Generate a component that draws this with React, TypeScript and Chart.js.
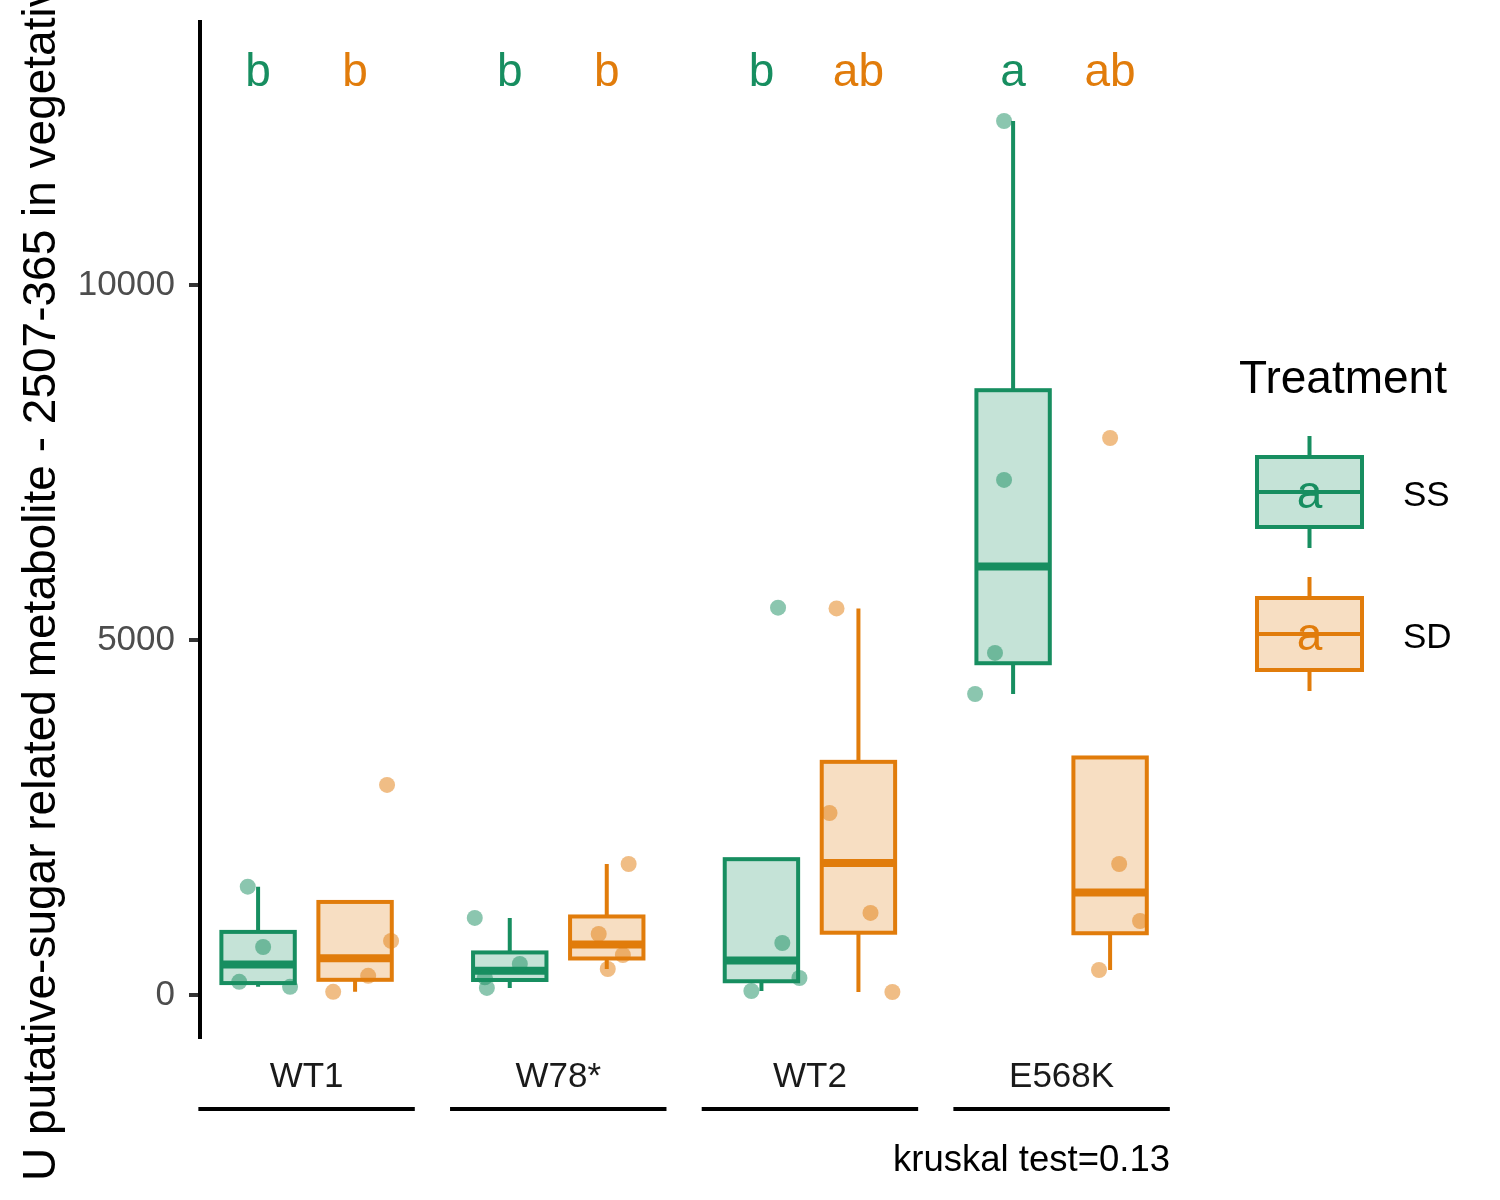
import React, { useEffect, useRef } from 'react';
import { Chart, registerables } from 'chart.js';

Chart.register(...registerables);

// categories
const genotypes = ['WT1', 'W78*', 'WT2', 'E568K'];
const treatments = ['SS', 'SD'];

const ssValues = [
  [1525, 676, 185, 115],
  [1085, 437, 248, 99],
  [5455, 732, 239, 56],
  [12310, 7254, 4817, 4239],
];
const sdValues = [
  [2958, 761, 270, 44],
  [1845, 859, 563, 366],
  [5445, 2563, 1155, 42],
  [7845, 1845, 1042, 352],
];

// horizontal jitter of each point, in category units
const ssJitter = [
  [-0.041, 0.02, -0.075, 0.127],
  [-0.139, 0.04, -0.099, -0.091],
  [0.066, 0.083, 0.151, -0.04],
  [-0.036, -0.036, -0.072, -0.151],
];
const sdJitter = [
  [0.127, 0.143, 0.052, -0.087],
  [0.087, -0.032, 0.064, 0.004],
  [-0.087, -0.115, 0.048, 0.135],
  [0, 0.036, 0.119, -0.044],
];

// compact letter display
const ssLetters = ['b', 'b', 'b', 'a'];
const sdLetters = ['b', 'b', 'ab', 'ab'];

const yTicks = [0, 5000, 10000];
const yTitle = 'U putative-sugar related metabolite - 2507-365 in vegetative tissue';
const testLabel = 'kruskal test=0.13';

const SS_COLOR = '#178E60';
const SD_COLOR = '#E17C0B';
const SS_FILL = 'rgba(23,142,96,0.25)';
const SD_FILL = 'rgba(225,124,11,0.25)';
const SS_POINT = 'rgba(23,142,96,0.5)';
const SD_POINT = 'rgba(225,124,11,0.5)';
const FONT = "'Liberation Sans', Arial, sans-serif";

const DODGE = 0.1927;
const BOX_HALF = 0.1458;
const LETTER_Y = 12800;

const quantile = (sorted: number[], p: number) => {
  const h = (sorted.length - 1) * p;
  const lo = Math.floor(h);
  const hi = Math.ceil(h);
  return sorted[lo] + (h - lo) * (sorted[hi] - sorted[lo]);
};

const boxStats = (values: number[]) => {
  const s = [...values].sort((a, b) => a - b);
  const q1 = quantile(s, 0.25);
  const med = quantile(s, 0.5);
  const q3 = quantile(s, 0.75);
  const iqr = q3 - q1;
  const lo = Math.min(...s.filter((v) => v >= q1 - 1.5 * iqr));
  const hi = Math.max(...s.filter((v) => v <= q3 + 1.5 * iqr));
  return { q1, med, q3, lo, hi };
};

const series = [
  { values: ssValues, jitter: ssJitter, letters: ssLetters, offset: -DODGE, stroke: SS_COLOR, fill: SS_FILL, point: SS_POINT },
  { values: sdValues, jitter: sdJitter, letters: sdLetters, offset: DODGE, stroke: SD_COLOR, fill: SD_FILL, point: SD_POINT },
];

const boxPlugin = {
  id: 'boxes',
  beforeDatasetsDraw(chart: any) {
    const { ctx, scales } = chart;
    const { x, y } = scales;
    ctx.save();
    ctx.lineCap = 'butt';
    series.forEach((ser) => {
      ser.values.forEach((vals, g) => {
        const st = boxStats(vals);
        const c = g + 1 + ser.offset;
        const left = x.getPixelForValue(c - BOX_HALF);
        const right = x.getPixelForValue(c + BOX_HALF);
        const mid = x.getPixelForValue(c);
        const yq1 = y.getPixelForValue(st.q1);
        const yq3 = y.getPixelForValue(st.q3);
        ctx.strokeStyle = ser.stroke;
        ctx.lineWidth = 4;
        ctx.beginPath();
        ctx.moveTo(mid, yq3);
        ctx.lineTo(mid, y.getPixelForValue(st.hi));
        ctx.moveTo(mid, yq1);
        ctx.lineTo(mid, y.getPixelForValue(st.lo));
        ctx.stroke();
        ctx.fillStyle = '#fff';
        ctx.fillRect(left, yq3, right - left, yq1 - yq3);
        ctx.fillStyle = ser.fill;
        ctx.fillRect(left, yq3, right - left, yq1 - yq3);
        ctx.strokeRect(left, yq3, right - left, yq1 - yq3);
        const ym = y.getPixelForValue(st.med);
        ctx.lineWidth = 8;
        ctx.beginPath();
        ctx.moveTo(left, ym);
        ctx.lineTo(right, ym);
        ctx.stroke();
      });
    });
    ctx.restore();
  },
};

const drawKey = (ctx: any, cx: number, top: number, bottom: number, color: string, fill: string) => {
  const left = cx - 52.5;
  const w = 105;
  const h = bottom - top;
  ctx.save();
  ctx.strokeStyle = color;
  ctx.lineWidth = 4;
  ctx.beginPath();
  ctx.moveTo(cx, top - 21);
  ctx.lineTo(cx, top);
  ctx.moveTo(cx, bottom);
  ctx.lineTo(cx, bottom + 21);
  ctx.stroke();
  ctx.fillStyle = fill;
  ctx.fillRect(left, top, w, h);
  ctx.strokeRect(left, top, w, h);
  ctx.beginPath();
  ctx.moveTo(left, top + h / 2);
  ctx.lineTo(left + w, top + h / 2);
  ctx.stroke();
  ctx.fillStyle = color;
  ctx.font = `46px ${FONT}`;
  ctx.textAlign = 'center';
  ctx.textBaseline = 'alphabetic';
  ctx.fillText('a', cx, top + h / 2 + 16);
  ctx.restore();
};

const textPlugin = {
  id: 'texts',
  afterDatasetsDraw(chart: any) {
    const { ctx, scales } = chart;
    const { x, y } = scales;
    ctx.save();
    ctx.font = `46px ${FONT}`;
    ctx.textAlign = 'center';
    ctx.textBaseline = 'alphabetic';
    series.forEach((ser) => {
      ser.letters.forEach((l, g) => {
        ctx.fillStyle = ser.stroke;
        ctx.fillText(l, x.getPixelForValue(g + 1 + ser.offset), y.getPixelForValue(LETTER_Y));
      });
    });
    ctx.restore();
  },
  afterDraw(chart: any) {
    const { ctx, scales } = chart;
    const { x } = scales;
    ctx.save();
    // genotype labels and underlines
    ctx.font = `35px ${FONT}`;
    ctx.fillStyle = '#1A1A1A';
    ctx.textAlign = 'center';
    ctx.textBaseline = 'alphabetic';
    ctx.strokeStyle = '#000';
    ctx.lineWidth = 4;
    genotypes.forEach((gname, g) => {
      ctx.fillText(gname, x.getPixelForValue(g + 1), 1087);
      ctx.beginPath();
      ctx.moveTo(x.getPixelForValue(g + 1 - 0.43), 1109);
      ctx.lineTo(x.getPixelForValue(g + 1 + 0.43), 1109);
      ctx.stroke();
    });
    // test label
    ctx.font = `36.5px ${FONT}`;
    ctx.fillStyle = '#000';
    ctx.textAlign = 'right';
    ctx.fillText(testLabel, chart.chartArea.right, 1171);
    // y title
    ctx.save();
    ctx.translate(55, 1181);
    ctx.rotate(-Math.PI / 2);
    ctx.font = `46px ${FONT}`;
    ctx.textAlign = 'left';
    ctx.fillText(yTitle, 0, 0);
    ctx.restore();
    // legend
    ctx.font = `46px ${FONT}`;
    ctx.textAlign = 'left';
    ctx.fillStyle = '#000';
    ctx.fillText('Treatment', 1239, 393);
    drawKey(ctx, 1309.5, 457, 527, SS_COLOR, SS_FILL);
    drawKey(ctx, 1309.5, 598, 670, SD_COLOR, SD_FILL);
    ctx.font = `35px ${FONT}`;
    ctx.fillStyle = '#000';
    ctx.textAlign = 'left';
    ctx.fillText(treatments[0], 1403, 506);
    ctx.fillText(treatments[1], 1403, 648);
    ctx.restore();
  },
};

const App: React.FC = () => {
  const canvasRef = useRef<HTMLCanvasElement | null>(null);

  useEffect(() => {
    document.body.style.margin = '0';
    if (!canvasRef.current) return;
    const chart = new Chart(canvasRef.current, {
      type: 'scatter',
      data: {
        datasets: series.map((ser, i) => ({
          label: treatments[i],
          data: ser.values.flatMap((vals, g) =>
            vals.map((v, k) => ({ x: g + 1 + ser.offset + ser.jitter[g][k], y: v }))
          ),
          backgroundColor: ser.point,
          borderWidth: 0,
          pointRadius: 8,
          pointHoverRadius: 8,
        })),
      },
      options: {
        responsive: false,
        animation: false,
        devicePixelRatio: 1,
        layout: { padding: { top: 22, right: 330, left: 0, bottom: 0 } },
        plugins: {
          legend: { display: false },
          tooltip: { enabled: false },
        },
        scales: {
          x: {
            type: 'linear',
            min: 0.5765,
            max: 4.4307,
            grid: { display: false, drawTicks: false },
            border: { display: false },
            ticks: { display: false },
            afterFit: (scale: any) => {
              scale.height = 163;
              scale.paddingLeft = 0;
              scale.paddingRight = 0;
            },
          },
          y: {
            type: 'linear',
            min: -592,
            max: 13704,
            afterBuildTicks: (scale: any) => {
              scale.ticks = yTicks.map((v) => ({ value: v }));
            },
            afterFit: (scale: any) => {
              scale.width = 200;
              scale.paddingTop = 0;
              scale.paddingBottom = 0;
            },
            grid: {
              drawOnChartArea: false,
              drawTicks: true,
              tickLength: 11,
              color: '#333333',
              lineWidth: 4,
            },
            border: { display: true, color: '#000', width: 4 },
            ticks: {
              padding: 14,
              color: '#4D4D4D',
              font: { size: 35, family: FONT },
              callback: (v: any) => String(v),
            },
          },
        },
      },
      plugins: [boxPlugin, textPlugin],
    });
    return () => {
      chart.destroy();
    };
  }, []);

  return (
    <div style={{ width: 1500, height: 1200, background: '#fff' }}>
      <canvas ref={canvasRef} width={1500} height={1200} style={{ display: 'block' }} />
    </div>
  );
};

export default App;
